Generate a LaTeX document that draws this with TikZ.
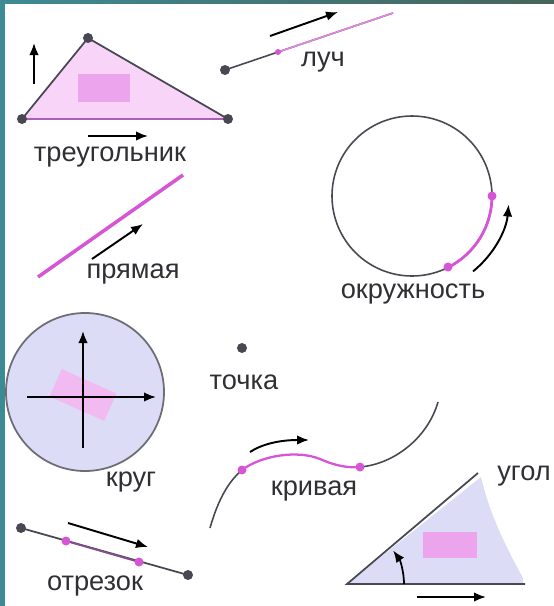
\documentclass[tikz,border=0pt]{standalone}
\usepackage{fontspec}
\setmainfont{Liberation Sans}
\usetikzlibrary{arrows.meta,positioning,calc}
\definecolor{figFrame}{RGB}{62, 138, 148}
\definecolor{figFrameBlue}{RGB}{40, 170, 215}
\definecolor{figFrameDark}{RGB}{70, 100, 90}
\definecolor{figMagenta}{RGB}{214, 84, 214}
\definecolor{figPurple}{RGB}{168, 96, 180}
\definecolor{figPink}{RGB}{249, 212, 249}
\definecolor{figRose}{RGB}{236, 164, 236}
\definecolor{figLavender}{RGB}{220, 220, 247}
\definecolor{figGray}{RGB}{72, 72, 82}
\definecolor{figText}{RGB}{48, 48, 52}

\begin{document}
\begin{tikzpicture}[
  x=0.02cm, y=-0.02cm,
  figline/.style={figGray, line width=0.9pt},
  magline/.style={figMagenta, line width=1.6pt},
  darkdot/.style={circle, fill=figGray, inner sep=0pt, minimum size=0.2cm},
  magdot/.style={circle, fill=figMagenta, inner sep=0pt, minimum size=0.18cm},
  arrow/.style={-{Latex[length=2.4mm,width=1.9mm]}, line width=1.1pt, black},
  lbl/.style={font=\fontsize{15.5}{17}\selectfont, text=figText, inner sep=1pt}
]
  \useasboundingbox (0,0) rectangle (554,606);
  % frame
  \fill[figFrame] (0,0) rectangle (5,606);
  \shade[left color=figFrame, middle color=figFrameBlue, right color=figFrameDark] (0,0) rectangle (554,3);

  % triangle
  \coordinate (tA) at (22,119);
  \coordinate (tB) at (88,38);
  \coordinate (tC) at (228,119);
  \fill[figPink] (tA) -- (tB) -- (tC) -- cycle;
  \fill[figRose] (78,74) rectangle (130,102);
  \draw[figline, line width=1pt] (tA) -- (tB) -- (tC);
  \draw[figPurple, line width=1.6pt] (tA) -- (tC);
  \node[darkdot] (tAdot) at (tA) {};
  \node[darkdot] (tBdot) at (tB) {};
  \node[darkdot] (tCdot) at (tC) {};
  \draw[arrow] (34,84) -- (34,43);
  \draw[arrow] (88,136) -- (148,136);
  \node[lbl] (triLabel) at (110,157) {треугольник};

  % ray
  \coordinate (rStart) at (225,70);
  \coordinate (rMid) at (278,52);
  \coordinate (rEnd) at (393,13);
  \draw[figline] (rStart) -- (rEnd);
  \draw[figMagenta!70, line width=0.9pt] (rMid) -- (rEnd);
  \node[darkdot] (rStartDot) at (rStart) {};
  \node[magdot, minimum size=0.12cm] (rMidDot) at (rMid) {};
  \draw[arrow] (270,36) -- (338,12);
  \node[lbl] (rayLabel) at (323,62) {луч};

  % circle
  \coordinate (oc) at (412,196);
  \coordinate (oP) at (492,196);
  \coordinate (oQ) at (448,267);
  \draw[figline] (oc) circle[radius=80];
  \draw[magline] (oP) arc[start angle=0, end angle=63, radius=80];
  \node[magdot] (oPdot) at (oP) {};
  \node[magdot] (oQdot) at (oQ) {};
  \draw[arrow] ($(oc)+(51:97)$) arc[start angle=51, end angle=5, radius=97];
  \node[lbl] (circLabel) at (413,294) {окружность};

  % straight line
  \coordinate (lA) at (38,277);
  \coordinate (lB) at (183,175);
  \draw[magline, line width=2pt] (lA) -- (lB);
  \draw[arrow] (92,259) -- (143,224);
  \node[lbl] (lineLabel) at (133,274) {прямая};

  % disk
  \coordinate (dc) at (85,392);
  \draw[figGray!80, fill=figLavender, line width=1pt] (dc) circle[radius=79];
  \node[fill=figRose!75, rotate=-24, minimum width=1.2cm, minimum height=0.6cm, inner sep=0pt] (diskRect) at (83,395) {};
  \draw[arrow] (83,448) -- (83,331);
  \draw[arrow] (27,397) -- (156,397);
  \node[lbl] (diskLabel) at (131,482) {круг};

  % point
  \node[darkdot] (ptDot) at (242,348) {};
  \node[lbl] (ptLabel) at (244,382) {точка};

  % curve
  \coordinate (cStart) at (210,528);
  \coordinate (cK) at (242,470);
  \coordinate (cL) at (360,467);
  \coordinate (cEnd) at (438,402);
  \draw[figline] (cStart) .. controls (218,500) and (228,482) .. (cK);
  \draw[figline] (cL) .. controls (395,464) and (428,437) .. (cEnd);
  \draw[magline, line width=1.3pt] (cK) .. controls (262,455) and (298,450) .. (320,459)
    .. controls (336,466) and (348,468) .. (cL);
  \node[magdot] (cKdot) at (cK) {};
  \node[magdot] (cLdot) at (cL) {};
  \draw[arrow] (250,452) .. controls (262,444) and (280,440) .. (309,440);
  \node[lbl] (curveLabel) at (314,491) {кривая};

  % angle
  \coordinate (aV) at (347,584);
  \coordinate (aB) at (525,584);
  \coordinate (aR) at (478,473);
  \fill[figLavender] (aV) -- (481,477) .. controls (490,515) and (505,545) .. (523,578)
    -- (523,584) -- cycle;
  \fill[figRose] (423,532) rectangle (477,558);
  \draw[figline, line width=1pt] (aR) -- (aV) -- (aB);
  \draw[arrow, line width=1pt] (404,584) arc[start angle=0, end angle=-36, radius=57];
  \draw[arrow] (417,597) -- (486,597);
  \node[lbl] (angleLabel) at (524,476) {угол};

  % segment
  \coordinate (sA) at (21,528);
  \coordinate (sB) at (188,575);
  \coordinate (sM) at (66,541);
  \coordinate (sN) at (139,562);
  \draw[figline, line width=1pt] (sA) -- (sB);
  \draw[figPurple!80!black, line width=1pt] (sM) -- (sN);
  \node[darkdot] (sAdot) at (sA) {};
  \node[darkdot] (sBdot) at (sB) {};
  \node[magdot] (sMdot) at (sM) {};
  \node[magdot] (sNdot) at (sN) {};
  \draw[arrow] (68,523) -- (148,547);
  \node[lbl] (segLabel) at (95,586) {отрезок};
\end{tikzpicture}
\end{document}
